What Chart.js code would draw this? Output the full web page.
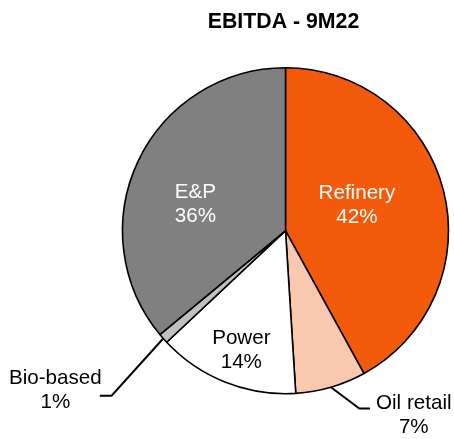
<!DOCTYPE html>
<html>
<head>
<meta charset="utf-8">
<script src="https://cdn.jsdelivr.net/npm/chart.js@4"></script>
<style>
  html, body { margin: 0; padding: 0; background: #ffffff; }
  canvas { display: block; }
</style>
</head>
<body>
<canvas id="c" width="454" height="439"></canvas>
<script>
const chartTitle = 'EBITDA - 9M22';
const categories = ['Refinery', 'Oil retail', 'Power', 'Bio-based', 'E&P'];
const values = [42, 7, 14, 1, 36];
const pctLabels = ['42%', '7%', '14%', '1%', '36%'];
const sliceColors = ['#F35A0C', '#FAC8AE', '#FFFFFF', '#C0C0C0', '#808080'];
const labelColors = ['#FFFFFF', '#000000', '#000000', '#000000', '#FFFFFF'];

// label placement (in units of the pie radius, relative to pie centre)
const labelPlacement = [
  { text: [0.438, -0.164] },
  { text: [0.787, 1.125], elbow: [0.453, 1.091], end: [0.518, 1.091] },
  { text: [-0.271, 0.728] },
  { text: [-1.412, 0.971], elbow: [-1.067, 1.012], end: [-1.139, 1.012] },
  { text: [-0.553, -0.170] }
];

const FONT = '"Liberation Sans", Arial, sans-serif';

const labelPlugin = {
  id: 'sliceLabels',
  afterDatasetsDraw(chart) {
    const ctx = chart.ctx;
    const meta = chart.getDatasetMeta(0);
    ctx.save();
    // title
    ctx.fillStyle = '#000';
    ctx.font = 'bold 21.3px ' + FONT;
    ctx.textAlign = 'center';
    ctx.textBaseline = 'alphabetic';
    ctx.fillText(chartTitle, 283.5, 27.5);

    meta.data.forEach((arc, i) => {
      const p = arc.getProps(['x', 'y', 'startAngle', 'endAngle', 'outerRadius'], true);
      const r = p.outerRadius;
      const pl = labelPlacement[i];
      if (pl.elbow) {
        const mid = (p.startAngle + p.endAngle) / 2;
        ctx.beginPath();
        ctx.strokeStyle = '#000';
        ctx.lineWidth = 2;
        ctx.moveTo(p.x + Math.cos(mid) * r, p.y + Math.sin(mid) * r);
        ctx.lineTo(p.x + pl.elbow[0] * r, p.y + pl.elbow[1] * r);
        ctx.lineTo(p.x + pl.end[0] * r, p.y + pl.end[1] * r);
        ctx.stroke();
      }
      const tx = p.x + pl.text[0] * r;
      const ty = p.y + pl.text[1] * r;
      ctx.fillStyle = labelColors[i];
      ctx.font = '20.6px ' + FONT;
      ctx.textAlign = 'center';
      ctx.textBaseline = 'alphabetic';
      ctx.fillText(categories[i], tx, ty - 5);
      ctx.fillText(pctLabels[i], tx, ty + 19);
    });
    ctx.restore();
  }
};

new Chart(document.getElementById('c'), {
  type: 'pie',
  data: {
    labels: categories,
    datasets: [{
      data: values,
      backgroundColor: sliceColors,
      borderColor: '#000000',
      borderWidth: 1.6,
      hoverOffset: 0,
      borderAlign: 'center'
    }]
  },
  options: {
    responsive: false,
    animation: false,
    events: [],
    radius: 163,
    layout: { padding: { left: 117, right: 0, top: 60, bottom: 37.6 } },
    plugins: {
      legend: { display: false },
      tooltip: { enabled: false },
      title: { display: false }
    }
  },
  plugins: [labelPlugin]
});
</script>
</body>
</html>
